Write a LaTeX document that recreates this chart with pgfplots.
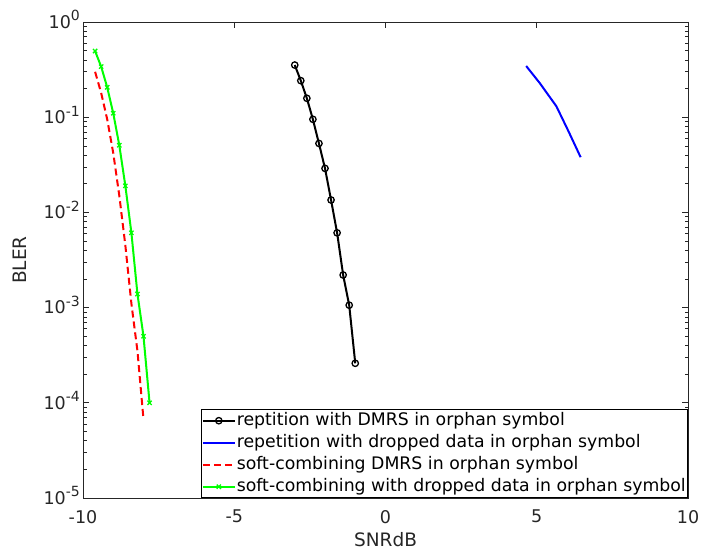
\documentclass[border=0pt]{standalone}
\usepackage{fontspec}
\setmainfont{DejaVu Sans}
\usepackage{pgfplots}
\pgfplotsset{compat=1.18}
\definecolor{axgray}{rgb}{0.15,0.15,0.15}
\newcommand{\tsup}[1]{10\raisebox{7.5bp}{\fontsize{14bp}{14bp}\selectfont #1}}
\begin{document}
\fontsize{17.5bp}{21bp}\selectfont
\begin{tikzpicture}[x=1bp,y=1bp]
\useasboundingbox (0,0) rectangle (703,550);
\begin{axis}[
  at={(83bp,52bp)}, anchor=south west,
  width=605bp, height=476bp, scale only axis,
  xmin=-10, xmax=10, ymin=1e-5, ymax=1, ymode=log,
  xtick={-10,-5,0,5,10},
  ytick={1e-5,1e-4,1e-3,1e-2,1e-1,1},
  yticklabels={\tsup{-5},\tsup{-4},\tsup{-3},\tsup{-2},\tsup{-1},\tsup{0}},
  /pgf/number format/assume math mode=true,
  xtick pos=both, ytick pos=both, tick align=inside,
  axis line style={axgray, line width=0.8bp},
  every tick/.style={axgray, line width=0.6bp},
  major tick length=6bp, minor tick length=3.5bp,
  ticklabel style={color=axgray, font=\fontsize{17.5bp}{21bp}\selectfont},
  xticklabel style={anchor=north, inner sep=0pt, yshift=-12bp},
  yticklabel style={anchor=base east, inner sep=0pt, xshift=-3bp, yshift=-6.4bp},
  xlabel={SNRdB}, ylabel={BLER},
  label style={color=axgray, font=\fontsize{18.5bp}{22bp}\selectfont},
  xlabel style={at={(axis description cs:0.5,-0.088)}, anchor=center},
  ylabel style={at={(axis description cs:-0.104,0.5)}, anchor=center},
  legend cell align=left,
  legend style={at={(1,0)}, anchor=south east, draw=black, line width=0.6bp, fill=white,
    inner xsep=1bp, inner ysep=0bp, row sep=0bp,
    font=\fontsize{17.3bp}{21bp}\selectfont,
    nodes={inner xsep=1bp, inner ysep=2.5bp, text height=13bp, text depth=4bp}},
  legend image code/.code={\draw[mark repeat=2,mark phase=2,#1] plot coordinates {(0bp,0bp) (16bp,0bp) (32bp,0bp)};},
]
\addplot[black, line width=2bp, mark=o, mark size=3.2bp, mark options={line width=1.3bp, solid}] coordinates {
(-3.0,0.353) (-2.8,0.242) (-2.6,0.158) (-2.4,0.095) (-2.2,0.053) (-2.0,0.029)
(-1.8,0.0135) (-1.6,0.0061) (-1.4,0.0022) (-1.2,0.00106) (-1.0,0.00026)};
\addlegendentry{reptition with DMRS in orphan symbol}
\addplot[blue, line width=2bp] coordinates {
(4.65,0.345) (5.1,0.228) (5.65,0.13) (6.05,0.071) (6.45,0.038)};
\addlegendentry{repetition with dropped data in orphan symbol}
\addplot[red, line width=2bp, dash pattern=on 7bp off 4bp] coordinates {
(-9.6,0.30) (-9.4,0.18) (-9.2,0.095) (-9.0,0.042) (-8.8,0.015) (-8.6,0.0045)
(-8.4,0.0011) (-8.2,0.00035) (-8.0,0.000067)};
\addlegendentry{soft-combining DMRS in orphan symbol}
\addplot[green, line width=2bp, mark=x, mark size=3bp, mark options={line width=1.3bp, solid}] coordinates {
(-9.6,0.495) (-9.4,0.34) (-9.2,0.206) (-9.0,0.11) (-8.8,0.0507) (-8.6,0.019)
(-8.4,0.0061) (-8.2,0.00139) (-8.0,0.0005) (-7.8,0.0001)};
\addlegendentry{soft-combining with dropped data in orphan symbol}
\end{axis}
\end{tikzpicture}
\end{document}
